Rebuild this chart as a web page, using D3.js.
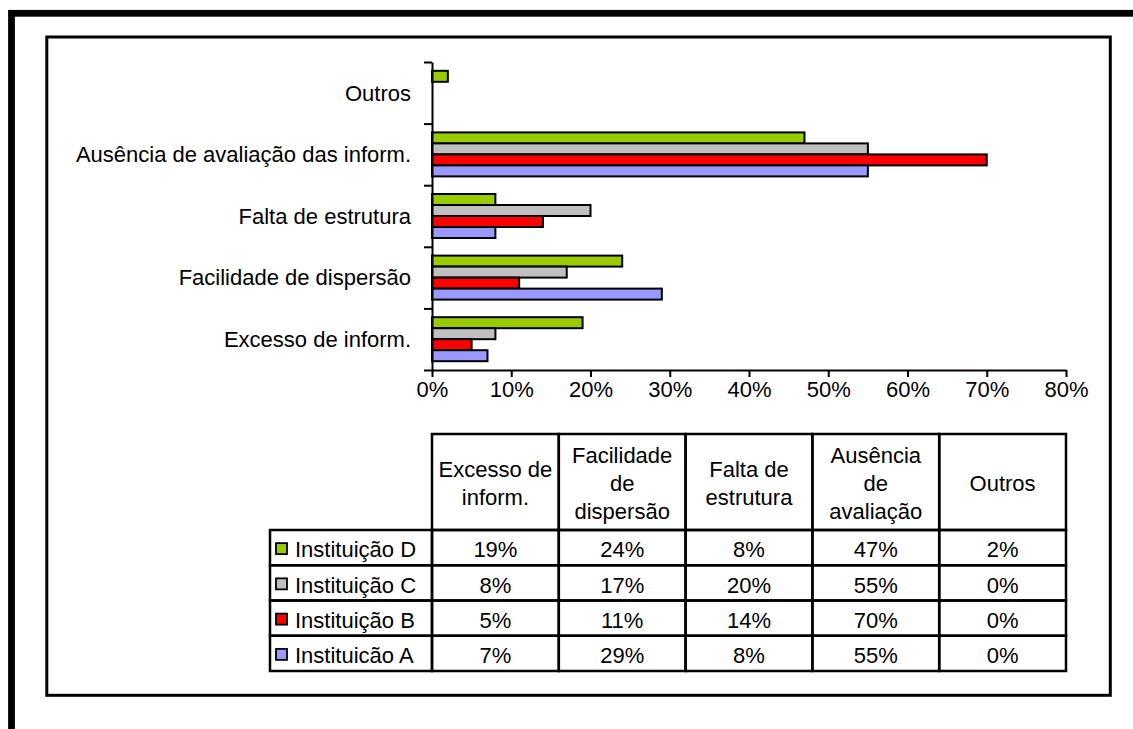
<!DOCTYPE html>
<html>
<head>
<meta charset="utf-8">
<script src="https://cdn.jsdelivr.net/npm/d3@7"></script>
<style>
  html, body { margin: 0; padding: 0; background: #fff; }
  svg { display: block; }
  text { font-family: "Liberation Sans", Arial, sans-serif; font-size: 22px; fill: #000; }
</style>
</head>
<body>
<svg id="chart" width="1133" height="729"></svg>
<script>
// Categories (bottom to top as listed in the table)
const categories = ["Excesso de inform.", "Facilidade de dispersão", "Falta de estrutura", "Ausência de avaliação das inform.", "Outros"];
const tableHeaders = [["Excesso de", "inform."], ["Facilidade", "de", "dispersão"], ["Falta de", "estrutura"], ["Ausência", "de", "avaliação"], ["Outros"]];

// Series, in legend order
const seriesNames = ["Instituição D", "Instituição C", "Instituição B", "Instituicão A"];
const seriesColors = ["#99CC00", "#C0C0C0", "#FF0000", "#9999FF"];
const valuesD = [19, 24, 8, 47, 2];
const valuesC = [8, 17, 20, 55, 0];
const valuesB = [5, 11, 14, 70, 0];
const valuesA = [7, 29, 8, 55, 0];
const seriesValues = [valuesD, valuesC, valuesB, valuesA];

const xTicks = [0, 10, 20, 30, 40, 50, 60, 70, 80];

const svg = d3.select("#chart");
svg.append("rect").attr("width", 1133).attr("height", 729).attr("fill", "#fff");

// Outer and inner frames
svg.append("rect").attr("x", 11.5).attr("y", 13.3).attr("width", 1300).attr("height", 900)
  .attr("fill", "none").attr("stroke", "#000").attr("stroke-width", 6.8);
svg.append("rect").attr("x", 46.8).attr("y", 37).attr("width", 1110.3 - 46.8).attr("height", 695.3 - 37)
  .attr("fill", "none").attr("stroke", "#000").attr("stroke-width", 3);

// Scales
const x = d3.scaleLinear().domain([0, 80]).range([432, 1066]);
const y = d3.scaleBand().domain(categories.slice().reverse()).range([62, 370]).paddingInner(0).paddingOuter(0);
const ySub = d3.scaleBand().domain(seriesNames).range([0, y.bandwidth()]).paddingInner(0).paddingOuter(0.8);

// Bars
const barData = [];
categories.forEach((c, ci) => {
  seriesNames.forEach((s, si) => {
    barData.push({ cat: c, series: s, value: seriesValues[si][ci], color: seriesColors[si] });
  });
});
svg.append("g").selectAll("rect").data(barData.filter(d => d.value > 0)).join("rect")
  .attr("x", x(0))
  .attr("y", d => y(d.cat) + ySub(d.series))
  .attr("width", d => x(d.value) - x(0))
  .attr("height", ySub.bandwidth())
  .attr("fill", d => d.color)
  .attr("stroke", "#000")
  .attr("stroke-width", 2);

// Category axis: ticks fall between categories
const yIdx = d3.scaleLinear().domain([0, categories.length]).range([62, 370]);
const yAxis = svg.append("g").attr("transform", `translate(${x(0)},0)`)
  .call(d3.axisLeft(yIdx).tickValues(d3.range(categories.length + 1)).tickFormat("").tickSize(8).tickSizeOuter(0));
yAxis.selectAll("path, line").attr("stroke", "#000").attr("stroke-width", 2);

svg.append("g").selectAll("text").data(categories).join("text")
  .attr("x", 411)
  .attr("y", d => y(d) + y.bandwidth() / 2)
  .attr("dy", "0.35em")
  .attr("text-anchor", "end")
  .text(d => d);

// Value axis
const xAxis = svg.append("g").attr("transform", "translate(0,370)")
  .call(d3.axisBottom(x).tickValues(xTicks).tickFormat(d => d + "%").tickSize(7).tickSizeOuter(0).tickPadding(4));
xAxis.selectAll("path, line").attr("stroke", "#000").attr("stroke-width", 2);
xAxis.selectAll("text").style("font-family", "'Liberation Sans', Arial, sans-serif").style("font-size", "22px").attr("fill", "#000");

// Data table
const col = d3.scaleBand().domain(categories).range([432, 1066]);
const row = d3.scaleBand().domain(seriesNames).range([530, 671]);
const tbl = svg.append("g");
const lineW = 2.5;
const headerTop = 434;

// header cells
tbl.selectAll("rect.hdr").data(categories).join("rect").attr("class", "hdr")
  .attr("x", d => col(d)).attr("y", headerTop).attr("width", col.bandwidth()).attr("height", row.range()[0] - headerTop)
  .attr("fill", "none").attr("stroke", "#000").attr("stroke-width", lineW);

tbl.selectAll("text.hdr").data(categories).join("text").attr("class", "hdr")
  .attr("text-anchor", "middle")
  .each(function (d, i) {
    const lines = tableHeaders[i];
    const cy = (headerTop + row.range()[0]) / 2 + 1;
    d3.select(this).selectAll("tspan").data(lines).join("tspan")
      .attr("x", col(d) + col.bandwidth() / 2)
      .attr("y", (l, li) => cy + (li - (lines.length - 1) / 2) * 28)
      .attr("dy", "0.35em")
      .text(l => l);
  });

// body cells
seriesNames.forEach((s, si) => {
  const ry = row(s);
  const rh = row.bandwidth();
  tbl.append("rect").attr("x", 270).attr("y", ry).attr("width", 432 - 270).attr("height", rh)
    .attr("fill", "none").attr("stroke", "#000").attr("stroke-width", lineW);
  tbl.append("rect").attr("x", 276).attr("y", ry + rh / 2 - 4.5).attr("width", 11).attr("height", 11)
    .attr("fill", seriesColors[si]).attr("stroke", "#000").attr("stroke-width", 1.8);
  tbl.append("text").attr("x", 295).attr("y", ry + rh / 2 + 2).attr("dy", "0.35em").text(s);
  categories.forEach((c, ci) => {
    tbl.append("rect").attr("x", col(c)).attr("y", ry).attr("width", col.bandwidth()).attr("height", rh)
      .attr("fill", "none").attr("stroke", "#000").attr("stroke-width", lineW);
    tbl.append("text").attr("x", col(c) + col.bandwidth() / 2).attr("y", ry + rh / 2 + 2)
      .attr("dy", "0.35em").attr("text-anchor", "middle").text(seriesValues[si][ci] + "%");
  });
});
</script>
</body>
</html>
